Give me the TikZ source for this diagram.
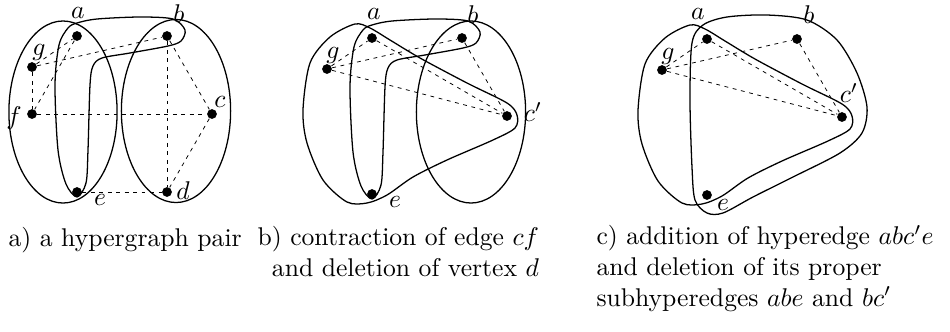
\documentclass[tikz,border=0pt]{standalone}
\usetikzlibrary{calc}
\newcommand{\jshape}{plot[smooth cycle] coordinates {(68,28) (77,23) (97,19) (140,17) (173,19) (185,30) (181,41) (168,46) (130,53) (102,58) (93,66) (90,85) (88,150) (86,183) (77,197) (66,184) (58,150) (55,85) (59,45)}}
\newcommand{\tshape}{plot[smooth cycle] coordinates {(8,108) (15,61) (35,35) (60,22) (75,26) (95,38) (125,56) (172,81) (212,101) (222,113) (220,126) (198,138) (152,158) (118,175) (92,193) (72,201) (52,200) (28,178) (12,141)}}
\begin{document}
\begin{tikzpicture}[x=0.39pt,y=-0.39pt,
    vtx/.style={circle,fill=black,inner sep=0pt,minimum size=3.8pt},
    lbl/.style={inner sep=0pt},
    gedge/.style={line width=0.3pt,dash pattern=on 1.5pt off 1.8pt},
    hedge/.style={line width=0.5pt},
    capt/.style={anchor=base west,inner sep=0pt}
  ]
  \useasboundingbox (0,0) rectangle (950,331);

  % a) the pair
  \foreach \v/\x/\y/\lx/\ly/\txt in {a1/77/36/78/13/a,b1/167/36/179/14/b,g1/32/67/39/52/g,f1/32/114/14/118/f,c1/212/114/220/102/c,d1/167/192/183/191/d,e1/77/192/100/200/e}
    {\node[vtx] (\v) at (\x,\y) {}; \node[lbl] (l\v) at (\lx,\ly) {$\txt$};}
  \foreach \p/\q in {g1/a1,g1/b1,g1/f1,a1/f1,f1/c1,b1/c1,b1/d1,c1/d1,e1/d1}
    \draw[gedge] (\p) -- (\q);
  \draw[hedge] (63,112) ellipse [x radius=21.1pt,y radius=35.5pt];
  \draw[hedge] (176,111) ellipse [x radius=21.3pt,y radius=35.7pt];
  \draw[hedge] \jshape;

  % b) after contraction
  \begin{scope}[shift={(295,2)}]
    \foreach \v/\x/\y/\lx/\ly/\txt in {a2/77/36/79/12/a,b2/167/36/178/13/b,g2/32/67/38/53/g,c2/212/114/238/110/c',e2/77/192/100/200/e}
      {\node[vtx] (\v) at (\x,\y) {}; \node[lbl] (l\v) at (\lx,\ly) {$\txt$};}
    \foreach \p/\q in {g2/a2,g2/b2,g2/c2,a2/c2,b2/c2}
      \draw[gedge] (\p) -- (\q);
    \draw[hedge] (176,110) ellipse [x radius=21.3pt,y radius=35.5pt];
    \draw[hedge] \jshape;
    \draw[hedge] \tshape;
  \end{scope}

  % c) after addition
  \begin{scope}[shift={(630,3)}]
    \foreach \v/\x/\y/\lx/\ly/\txt in {a3/77/36/68/11/a,b3/167/36/179/12/b,g3/32/67/38/53/g,c3/212/114/219/90/c',e3/77/192/93/202/e}
      {\node[vtx] (\v) at (\x,\y) {}; \node[lbl] (l\v) at (\lx,\ly) {$\txt$};}
    \foreach \p/\q in {g3/a3,g3/b3,g3/c3,a3/c3,b3/c3}
      \draw[gedge] (\p) -- (\q);
    \draw[hedge] \tshape;
    \draw[hedge] plot[smooth cycle] coordinates {(62,40) (73,22) (97,14) (137,12) (177,17) (207,37) (227,70) (237,104) (232,130) (210,150) (163,174) (123,194) (93,210) (77,210) (65,197) (62,164) (60,97)};
  \end{scope}

  \node[capt] (capa) at (8,246) {a) a hypergraph pair};
  \node[capt,align=right] (capb) at (257,276) {b) contraction of edge $cf$\\and deletion of vertex $d$};
  \node[capt,align=left] (capc) at (596,306) {c) addition of hyperedge $abc'e$\\and deletion of its proper\\subhyperedges $abe$ and $bc'$};
\end{tikzpicture}
\end{document}
